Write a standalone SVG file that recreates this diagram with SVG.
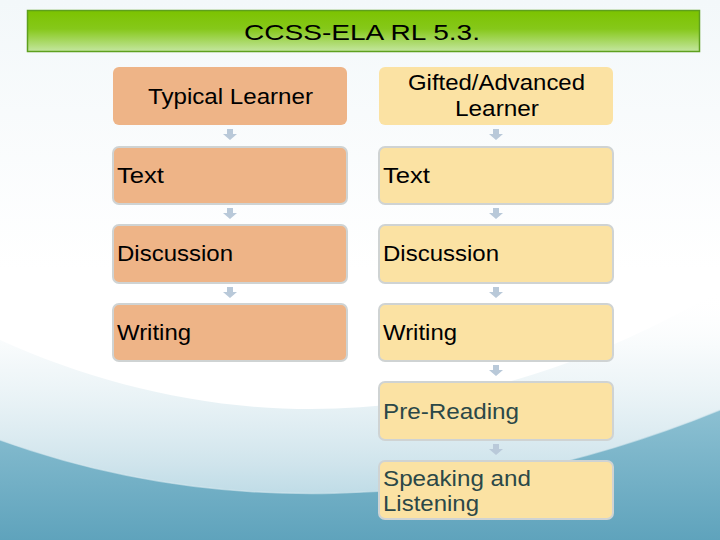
<svg xmlns="http://www.w3.org/2000/svg" width="720" height="540" viewBox="0 0 720 540">
<defs>
<linearGradient id="bg" x1="0" y1="0" x2="0" y2="1">
<stop offset="0" stop-color="#f3f8fa"/>
<stop offset="0.5" stop-color="#ffffff"/>
<stop offset="1" stop-color="#ffffff"/>
</linearGradient>
<linearGradient id="sw1" x1="0" y1="0" x2="0" y2="1">
<stop offset="0" stop-color="#ffffff" stop-opacity="0"/>
<stop offset="0.3" stop-color="#eaf3f6" stop-opacity="0.6"/>
<stop offset="0.7" stop-color="#cfe4ec"/>
<stop offset="1" stop-color="#a6cfde"/>
</linearGradient>
<linearGradient id="sw2" x1="0" y1="0" x2="0" y2="1">
<stop offset="0" stop-color="#8cc0d2"/>
<stop offset="1" stop-color="#5fa3bc"/>
</linearGradient>
<linearGradient id="title" x1="0" y1="0" x2="0" y2="1">
<stop offset="0" stop-color="#7cc300"/>
<stop offset="0.45" stop-color="#86c81a"/>
<stop offset="1" stop-color="#c4e6a0"/>
</linearGradient>
</defs>
<style>
.t{font-family:"Liberation Sans",Arial,sans-serif;font-size:22px;fill:#000}
.g{fill:#2b4848}
.L{fill:#eeb487}
.R{fill:#fbe2a3}
.b{stroke:#cfd3d3;stroke-width:2}
.ar{fill:#b9c9d9}
</style>
<rect width="720" height="540" fill="url(#bg)"/>
<path d="M0,340 C200,430 450,450 720,290 L720,540 L0,540 Z" fill="url(#sw1)"/>
<path d="M0,440 C200,512 450,520 720,410 L720,540 L0,540 Z" fill="url(#sw2)"/>
<path d="M0,440 C200,512 450,520 720,410" fill="none" stroke="#d6e8ee" stroke-width="1.5" opacity="0.6"/>
<g id="title-bar">
<rect x="27.5" y="10.5" width="672" height="41" fill="url(#title)" stroke="#5ea01e" stroke-width="1.5"/>
<text class="t" x="244" y="40" font-size="23" textLength="236" lengthAdjust="spacingAndGlyphs">CCSS-ELA RL 5.3.</text>
</g>
<g id="connectors">
<path class="ar" d="M227,129h6v5h4l-7,6l-7,-6h4z"/>
<path class="ar" d="M227,208h6v5h4l-7,6l-7,-6h4z"/>
<path class="ar" d="M227,287h6v5h4l-7,6l-7,-6h4z"/>
<path class="ar" d="M493,129h6v5h4l-7,6l-7,-6h4z"/>
<path class="ar" d="M493,208h6v5h4l-7,6l-7,-6h4z"/>
<path class="ar" d="M493,287h6v5h4l-7,6l-7,-6h4z"/>
<path class="ar" d="M493,365h6v5h4l-7,6l-7,-6h4z"/>
<path class="ar" d="M493,444h6v5h4l-7,6l-7,-6h4z"/>
</g>
<g id="typical-learner">
<rect class="L" x="113" y="67" width="234" height="58" rx="6"/>
<text class="t" x="148" y="104" textLength="165" lengthAdjust="spacingAndGlyphs">Typical Learner</text>
</g>
<g id="gifted-learner">
<rect class="R" x="379" y="67" width="234" height="58" rx="6"/>
<text class="t" x="408" y="90" textLength="177" lengthAdjust="spacingAndGlyphs">Gifted/Advanced</text>
<text class="t" x="455" y="116" textLength="84" lengthAdjust="spacingAndGlyphs">Learner</text>
</g>
<g id="l-text">
<rect class="L b" x="113" y="147" width="234" height="57" rx="6"/>
<text class="t" x="117" y="183" textLength="47" lengthAdjust="spacingAndGlyphs">Text</text>
</g>
<g id="r-text">
<rect class="R b" x="379" y="147" width="234" height="57" rx="6"/>
<text class="t" x="383" y="183" textLength="47" lengthAdjust="spacingAndGlyphs">Text</text>
</g>
<g id="l-discussion">
<rect class="L b" x="113" y="225" width="234" height="58" rx="6"/>
<text class="t" x="117" y="261" textLength="116" lengthAdjust="spacingAndGlyphs">Discussion</text>
</g>
<g id="r-discussion">
<rect class="R b" x="379" y="225" width="234" height="58" rx="6"/>
<text class="t" x="383" y="261" textLength="116" lengthAdjust="spacingAndGlyphs">Discussion</text>
</g>
<g id="l-writing">
<rect class="L b" x="113" y="304" width="234" height="57" rx="6"/>
<text class="t" x="117" y="340" textLength="74" lengthAdjust="spacingAndGlyphs">Writing</text>
</g>
<g id="r-writing">
<rect class="R b" x="379" y="304" width="234" height="57" rx="6"/>
<text class="t" x="383" y="340" textLength="74" lengthAdjust="spacingAndGlyphs">Writing</text>
</g>
<g id="r-prereading">
<rect class="R b" x="379" y="382" width="234" height="58" rx="6"/>
<text class="t g" x="383" y="419" textLength="136" lengthAdjust="spacingAndGlyphs">Pre-Reading</text>
</g>
<g id="r-speaking">
<rect class="R b" x="379" y="461" width="234" height="58" rx="6"/>
<text class="t g" x="383" y="486" textLength="148" lengthAdjust="spacingAndGlyphs">Speaking and</text>
<text class="t g" x="383" y="511" textLength="96" lengthAdjust="spacingAndGlyphs">Listening</text>
</g>
</svg>
